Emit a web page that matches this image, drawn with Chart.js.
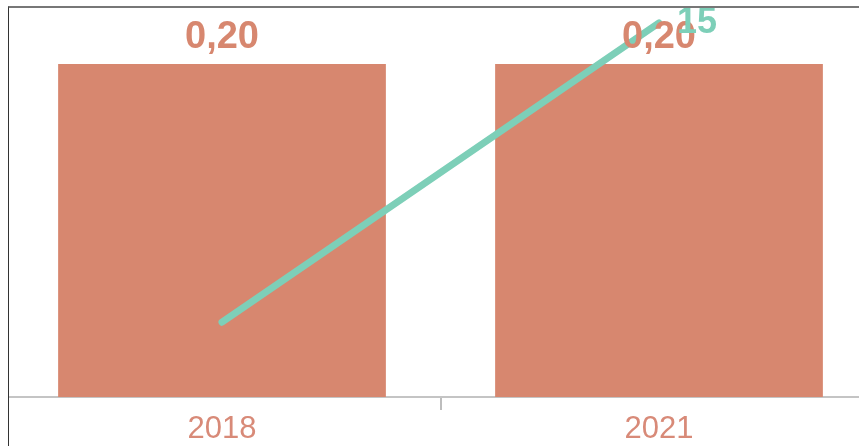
<!DOCTYPE html>
<html>
<head>
<meta charset="utf-8">
<script src="https://cdn.jsdelivr.net/npm/chart.js@4.4.1/dist/chart.umd.min.js"></script>
<style>
    html, body { margin: 0; padding: 0; background: #fff; }
    #page { position: relative; width: 859px; height: 446px; overflow: hidden; }
    #frame {
        position: absolute; left: 8px; top: 6px; width: 900px; height: 460px;
        border-left: 1px solid #333; border-top: 2px solid #777;
        overflow: hidden;
    }
    #holder { position: absolute; left: -9px; top: -8px; width: 880px; height: 446px; }
</style>
</head>
<body>
<div id="page">
    <div id="frame">
        <div id="holder"><canvas id="chart" width="880" height="446"></canvas></div>
    </div>
</div>
<script>
// datos
const years = ['2018', '2021'];
const barValues = [0.20, 0.20];
const lineValues = [3, 15];

const barColor = '#D7876F';
const lineColor = '#7DCFB8';

const fmt = v => v.toFixed(2).replace('.', ',');

// etiquetas de valores encima de barras y de la línea
const valueLabels = {
    id: 'valueLabels',
    afterDatasetsDraw(chart) {
        const ctx = chart.ctx;
        ctx.save();
        ctx.textAlign = 'center';
        ctx.textBaseline = 'alphabetic';
        ctx.font = 'bold 38px "Liberation Sans", Arial, sans-serif';
        ctx.fillStyle = barColor;
        chart.getDatasetMeta(0).data.forEach((bar, i) => {
            ctx.fillText(fmt(barValues[i]), bar.x, bar.y - 16);
        });
        // solo la última etiqueta de la línea es visible
        const pts = chart.getDatasetMeta(1).data;
        const last = pts[pts.length - 1];
        ctx.font = 'bold 36px "Liberation Sans", Arial, sans-serif';
        ctx.fillStyle = lineColor;
        ctx.fillText(String(lineValues[lineValues.length - 1]), last.x + 38, last.y + 10);
        ctx.restore();
    }
};

new Chart(document.getElementById('chart'), {
    type: 'bar',
    data: {
        labels: years,
        datasets: [{
            type: 'bar',
            data: barValues,
            backgroundColor: barColor,
            categoryPercentage: 0.75,
            barPercentage: 1.0,
            yAxisID: 'y',
            order: 1
        }, {
            type: 'line',
            data: lineValues,
            borderColor: lineColor,
            borderWidth: 7,
            borderCapStyle: 'round',
            pointRadius: 0,
            yAxisID: 'y2',
            clip: false,
            order: 0
        }]
    },
    options: {
        responsive: false,
        animation: false,
        layout: { padding: { top: 8, left: 3.5, right: 2.5, bottom: 0 } },
        plugins: { legend: { display: false }, tooltip: { enabled: false } },
        scales: {
            x: {
                afterFit: s => { s.height = 49; },
                grid: { display: true, drawOnChartArea: false, drawTicks: true, tickLength: 13, color: '#bdbdbd', lineWidth: 2 },
                border: { display: true, color: '#c4c4c4', width: 2 },
                ticks: {
                    color: '#D88A78',
                    padding: 1,
                    font: { family: '"Liberation Sans", Arial, sans-serif', size: 31 }
                }
            },
            y: { display: false, min: 0, max: 0.2336 },
            y2: { display: false, min: 0, max: 15.6 }
        }
    },
    plugins: [valueLabels]
});
</script>
</body>
</html>
